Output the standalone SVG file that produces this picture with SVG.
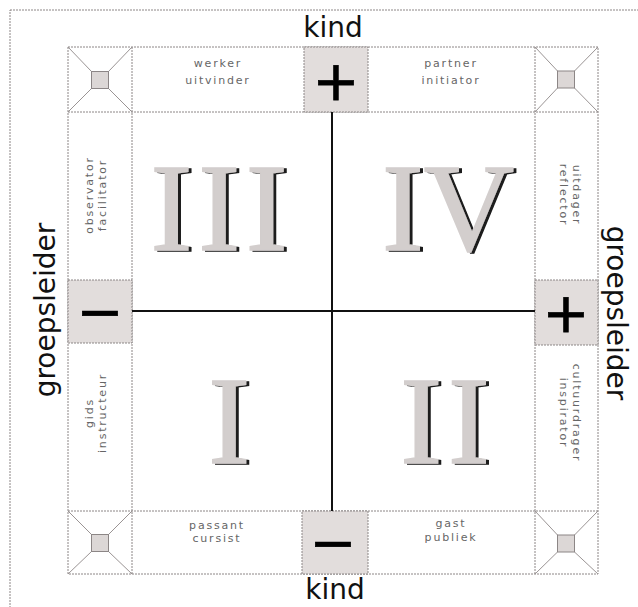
<svg xmlns="http://www.w3.org/2000/svg" width="638" height="607" viewBox="0 0 638 607">
<defs>
<style>
.dash{fill:none;stroke:#8c8686;stroke-width:1;stroke-dasharray:2,1}
.cell{fill:#ffffff;stroke:#8c8686;stroke-width:1;stroke-dasharray:2,1}
.sign{fill:#e2dddc;stroke:#8c8686;stroke-width:1;stroke-dasharray:2,1}
.xl{stroke:#9a9494;stroke-width:1;fill:none}
.sq{fill:#dcd7d6;stroke:#8c8686;stroke-width:1}
.lbl{font-family:"DejaVu Sans",sans-serif;font-size:11px;fill:#666;letter-spacing:1.8px;text-anchor:middle}
.big{font-family:"DejaVu Sans",sans-serif;font-size:28px;fill:#111;text-anchor:middle}
.sym{font-family:"DejaVu Sans",sans-serif;font-size:56px;fill:#000;stroke:#000;stroke-width:0.8;text-anchor:middle}
.rom{font-family:"Liberation Serif",serif;font-size:125px;text-anchor:middle;fill:#d3cecd;stroke:#d3cecd;stroke-width:1.5;filter:url(#shadow)}
.sp{letter-spacing:6px}
.axis{stroke:#111;stroke-width:2;fill:none}
</style>
<filter id="shadow" x="-10%" y="-10%" width="130%" height="130%">
<feOffset in="SourceAlpha" dx="2.5" dy="1" result="off"/>
<feFlood flood-color="#1a1a1a"/>
<feComposite in2="off" operator="in" result="sh"/>
<feMerge><feMergeNode in="sh"/><feMergeNode in="SourceGraphic"/></feMerge>
</filter>
</defs>
<rect width="638" height="607" fill="#ffffff"/>
<rect id="frame" class="dash" x="10" y="10" width="640" height="610"/>

<g id="grid">
<rect class="cell" x="68" y="47" width="530" height="527"/>
<line class="dash" x1="132" y1="47" x2="132" y2="574"/>
<line class="dash" x1="535" y1="47" x2="535" y2="574"/>
<line class="dash" x1="68" y1="112" x2="598" y2="112"/>
<line class="dash" x1="68" y1="511" x2="598" y2="511"/>
</g>

<g id="corner-tl">
<path class="xl" d="M68,47 L91.5,71.5 M132,47 L108.5,71.5 M68,112 L91.5,88.5 M132,112 L108.5,88.5"/>
<rect class="sq" x="91.5" y="71.5" width="17" height="17"/>
</g>
<g id="corner-tr">
<path class="xl" d="M535,47 L557.5,71 M598,47 L574.5,71 M535,112 L557.5,88 M598,112 L574.5,88"/>
<rect class="sq" x="557.5" y="71" width="17" height="17"/>
</g>
<g id="corner-bl">
<path class="xl" d="M68,511 L91.5,534.5 M132,511 L108.5,534.5 M68,574 L91.5,551.5 M132,574 L108.5,551.5"/>
<rect class="sq" x="91.5" y="534.5" width="17" height="17"/>
</g>
<g id="corner-br">
<path class="xl" d="M535,511 L557.5,535 M598,511 L574.5,535 M535,574 L557.5,552 M598,574 L574.5,552"/>
<rect class="sq" x="557.5" y="535" width="17" height="17"/>
</g>

<g id="kind-plus">
<rect class="sign" x="304" y="47" width="64" height="65"/>
<text class="sym" x="336" y="100">+</text>
</g>
<g id="kind-minus">
<rect class="sign" x="302" y="511" width="66" height="63"/>
<text class="sym" x="333" y="562">−</text>
</g>
<g id="groep-minus">
<rect class="sign" x="68" y="280" width="64" height="63"/>
<text class="sym" x="100" y="331">−</text>
</g>
<g id="groep-plus">
<rect class="sign" x="535" y="280" width="63" height="65"/>
<text class="sym" x="566" y="332">+</text>
</g>

<g id="connectors">
<line class="axis" x1="132" y1="311" x2="535" y2="311"/>
<line class="axis" x1="332" y1="112" x2="332" y2="511"/>
</g>

<g id="label-werker"><text class="lbl" x="218" y="67">werker</text><text class="lbl" x="218" y="84">uitvinder</text></g>
<g id="label-partner"><text class="lbl" x="451" y="67">partner</text><text class="lbl" x="451" y="84">initiator</text></g>
<g id="label-passant"><text class="lbl" x="217" y="529">passant</text><text class="lbl" x="217" y="542">cursist</text></g>
<g id="label-gast"><text class="lbl" x="451" y="527">gast</text><text class="lbl" x="451" y="541">publiek</text></g>
<g id="label-observator" transform="translate(95,195) rotate(-90)"><text class="lbl" x="0" y="-2">observator</text><text class="lbl" x="0" y="11">facilitator</text></g>
<g id="label-gids" transform="translate(95,413) rotate(-90)"><text class="lbl" x="0" y="-2">gids</text><text class="lbl" x="0" y="11">instructeur</text></g>
<g id="label-uitdager" transform="translate(571,195) rotate(90)"><text class="lbl" x="0" y="-2">uitdager</text><text class="lbl" x="0" y="11">reflector</text></g>
<g id="label-cultuur" transform="translate(571,413) rotate(90)"><text class="lbl" x="0" y="-2">cultuurdrager</text><text class="lbl" x="0" y="11">inspirator</text></g>

<g id="axis-labels">
<text class="big" x="333" y="37">kind</text>
<text class="big" x="335" y="599">kind</text>
<text class="big" transform="translate(55,310) rotate(-90)">groepsleider</text>
<text class="big" transform="translate(607,313) rotate(90)">groepsleider</text>
</g>

<g id="quadrant-III"><text class="rom sp" x="222" y="250">III</text></g>
<g id="quadrant-IV"><text class="rom" x="448" y="250">IV</text></g>
<g id="quadrant-I"><text class="rom" x="229" y="463">I</text></g>
<g id="quadrant-II"><text class="rom sp" x="448" y="463">II</text></g>
</svg>
